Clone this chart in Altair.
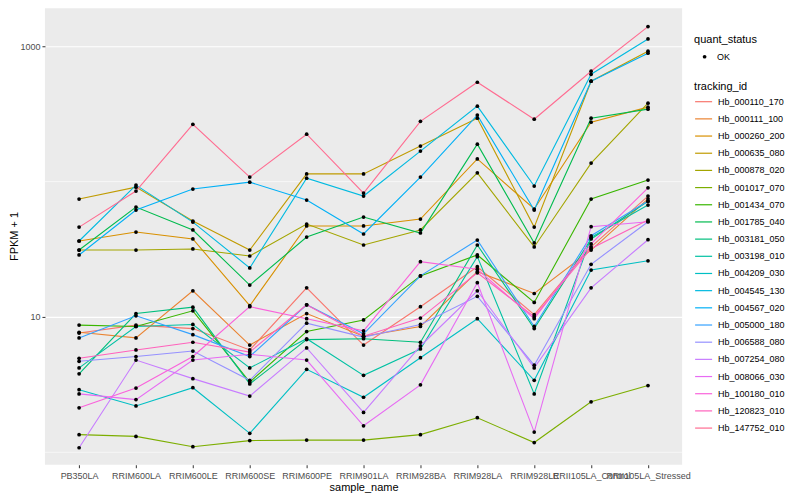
import altair as alt
import pandas as pd

samples = ["PB350LA", "RRIM600LA", "RRIM600LE", "RRIM600SE", "RRIM600PE", "RRIM901LA",
           "RRIM928BA", "RRIM928LA", "RRIM928LE", "RRII105LA_Control", "RRII105LA_Stressed"]

tracking_ids = ["Hb_000110_170", "Hb_000111_100", "Hb_000260_200", "Hb_000635_080", "Hb_000878_020",
                "Hb_001017_070", "Hb_001434_070", "Hb_001785_040", "Hb_003181_050", "Hb_003198_010",
                "Hb_004209_030", "Hb_004545_130", "Hb_004567_020", "Hb_005000_180", "Hb_006588_080",
                "Hb_007254_080", "Hb_008066_030", "Hb_100180_010", "Hb_120823_010", "Hb_147752_010"]

colors = ["#F8766D", "#EA8331", "#D89000", "#C09B00", "#A3A500", "#7CAE00", "#39B600", "#00BB4E",
          "#00BF7D", "#00C1A3", "#00BFC4", "#00BAE0", "#00B0F6", "#35A2FF", "#9590FF", "#C77CFF",
          "#E76BF3", "#FA62DB", "#FF62BC", "#FF6C91"]

# FPKM + 1 per tracking_id, one value per sample (in sample order)
fpkm_000110_170 = [7.6, 8.7, 8.2, 5.7, 16.4, 6.2, 11.9, 23.5, 10.4, 33.0, 78.2]
fpkm_000111_100 = [7.7, 7.0, 15.6, 6.2, 10.6, 7.2, 8.5, 21.6, 14.9, 31.2, 74.6]
fpkm_000260_200 = [36.4, 42.4, 37.7, 12.1, 47.0, 47.0, 52.9, 147, 62.7, 275, 355]
fpkm_000635_080 = [74.3, 91.0, 51.1, 31.2, 114, 114, 183, 294, 46.1, 552, 919]
fpkm_000878_020 = [31.2, 31.2, 31.8, 28.2, 48.6, 34.0, 43.9, 116, 32.9, 137, 380]
fpkm_001017_070 = [1.35, 1.31, 1.10, 1.22, 1.23, 1.23, 1.35, 1.80, 1.18, 2.36, 3.11]
fpkm_001434_070 = [8.7, 8.5, 11.1, 3.3, 7.8, 9.5, 20.1, 28.7, 12.8, 74.3, 102.6]
fpkm_001785_040 = [31.2, 64.8, 43.9, 17.2, 38.9, 54.7, 41.7, 189, 35.2, 294, 343]
fpkm_003181_050 = [3.8, 10.6, 11.8, 3.2, 6.8, 6.9, 6.5, 34.0, 8.2, 37.7, 71.4]
fpkm_003198_010 = [4.2, 8.5, 8.8, 4.2, 6.9, 3.7, 5.8, 27.9, 2.7, 38.7, 67.1]
fpkm_004209_030 = [2.9, 2.2, 3.0, 1.38, 4.1, 2.55, 5.0, 9.7, 3.4, 22.2, 26.0]
fpkm_004545_130 = [36.4, 94.2, 50.2, 23.0, 106, 78.2, 168, 361, 92.7, 621, 1132]
fpkm_004567_020 = [28.7, 61.6, 88.1, 99.1, 73.0, 41.0, 108, 310, 61.6, 552, 888]
fpkm_005000_180 = [7.0, 10.2, 7.4, 5.1, 12.3, 7.5, 20.1, 37.0, 8.5, 39.8, 71.8]
fpkm_006588_080 = [4.7, 5.1, 5.6, 3.4, 9.0, 7.1, 8.8, 14.2, 4.4, 24.5, 50.5]
fpkm_007254_080 = [1.08, 4.8, 3.5, 2.6, 5.9, 1.97, 6.1, 15.6, 4.2, 16.4, 37.2]
fpkm_008066_030 = [2.7, 2.45, 4.8, 5.3, 4.8, 1.57, 3.15, 17.9, 1.41, 46.4, 50.5]
fpkm_100180_010 = [2.13, 2.98, 5.1, 11.9, 9.7, 7.9, 25.6, 22.5, 9.7, 34.6, 90.0]
fpkm_120823_010 = [4.95, 5.7, 6.5, 5.5, 12.3, 7.2, 9.8, 21.2, 10.05, 32.1, 52.0]
fpkm_147752_010 = [46.1, 85.1, 265, 108, 224, 82.2, 279, 542, 289, 654, 1397]

series = [fpkm_000110_170, fpkm_000111_100, fpkm_000260_200, fpkm_000635_080, fpkm_000878_020,
          fpkm_001017_070, fpkm_001434_070, fpkm_001785_040, fpkm_003181_050, fpkm_003198_010,
          fpkm_004209_030, fpkm_004545_130, fpkm_004567_020, fpkm_005000_180, fpkm_006588_080,
          fpkm_007254_080, fpkm_008066_030, fpkm_100180_010, fpkm_120823_010, fpkm_147752_010]

major_breaks = [10, 1000]
minor_breaks = [1, 100]

rows = []
for tid, vals in zip(tracking_ids, series):
    for s, v in zip(samples, vals):
        rows.append({"tracking_id": tid, "sample_name": s, "fpkm": v, "quant_status": "OK"})
df = pd.DataFrame(rows)
minor_df = pd.DataFrame({"b": minor_breaks})

FONT = "Liberation Sans"

x_enc = alt.X("sample_name:N", sort=samples,
              scale=alt.Scale(type="point", padding=0.6),
              axis=alt.Axis(title="sample_name", labelAngle=0, labelOverlap=False,
                            labelBound=False, labelFlush=False, domain=False,
                            tickColor="#333333", tickSize=3, labelPadding=4,
                            labelFontSize=9, labelColor="#4D4D4D", titleFontSize=11,
                            titleFontWeight="normal", titleColor="black", titlePadding=1,
                            gridColor="white", gridWidth=1.1, labelFont=FONT, titleFont=FONT))

y_scale = alt.Scale(type="log", domain=[0.809, 1907], nice=False)
y_enc = alt.Y("fpkm:Q", scale=y_scale,
              axis=alt.Axis(title="FPKM + 1", values=major_breaks, format="d", domain=False,
                            tickColor="#333333", tickSize=3, labelPadding=2,
                            labelFontSize=9, labelColor="#4D4D4D", titleFontSize=11,
                            titleFontWeight="normal", titleColor="black",
                            titleX=-30, titleY=228, titleAngle=270, titleAlign="center",
                            titleBaseline="middle",
                            gridColor="white", gridWidth=1.1, labelFont=FONT, titleFont=FONT))

minor = alt.Chart(minor_df).mark_rule(color="white", strokeWidth=0.6).encode(
    y=alt.Y("b:Q", scale=y_scale)
)

lines = alt.Chart(df).mark_line(strokeWidth=1.1).encode(
    x=x_enc,
    y=y_enc,
    color=alt.Color("tracking_id:N", scale=alt.Scale(domain=tracking_ids, range=colors),
                    legend=alt.Legend(title="tracking_id", orient="none", legendX=650, legendY=73,
                                      symbolType="stroke", symbolSize=290, symbolStrokeWidth=1.2,
                                      labelFontSize=9, titleFontSize=11, titleFontWeight="normal",
                                      labelFont=FONT, titleFont=FONT, rowPadding=2.2,
                                      labelOffset=5, titlePadding=0,
                                      labelColor="black", titleColor="black")),
)

points = alt.Chart(df).mark_point(filled=True, color="black", size=14, opacity=1).encode(
    x=x_enc,
    y=y_enc,
    shape=alt.Shape("quant_status:N", scale=alt.Scale(domain=["OK"], range=["circle"]),
                    legend=alt.Legend(title="quant_status", orient="none", legendX=650, legendY=26,
                                      symbolFillColor="black", symbolStrokeColor="black",
                                      symbolSize=14, labelFontSize=9, titleFontSize=11,
                                      titleFontWeight="normal", labelFont=FONT, titleFont=FONT,
                                      titlePadding=7, labelOffset=8, symbolOffset=6,
                                      labelColor="black", titleColor="black")),
)

chart = alt.layer(minor, lines, points).properties(
    width=638, height=457,
    autosize=alt.AutoSizeParams(type="none"),
    padding={"left": 37, "top": 0, "right": 110, "bottom": 35},
    background="white",
).configure_view(fill="#EBEBEB", stroke=None)

chart.save("out.html", embed_options={"renderer": "svg", "actions": False})
